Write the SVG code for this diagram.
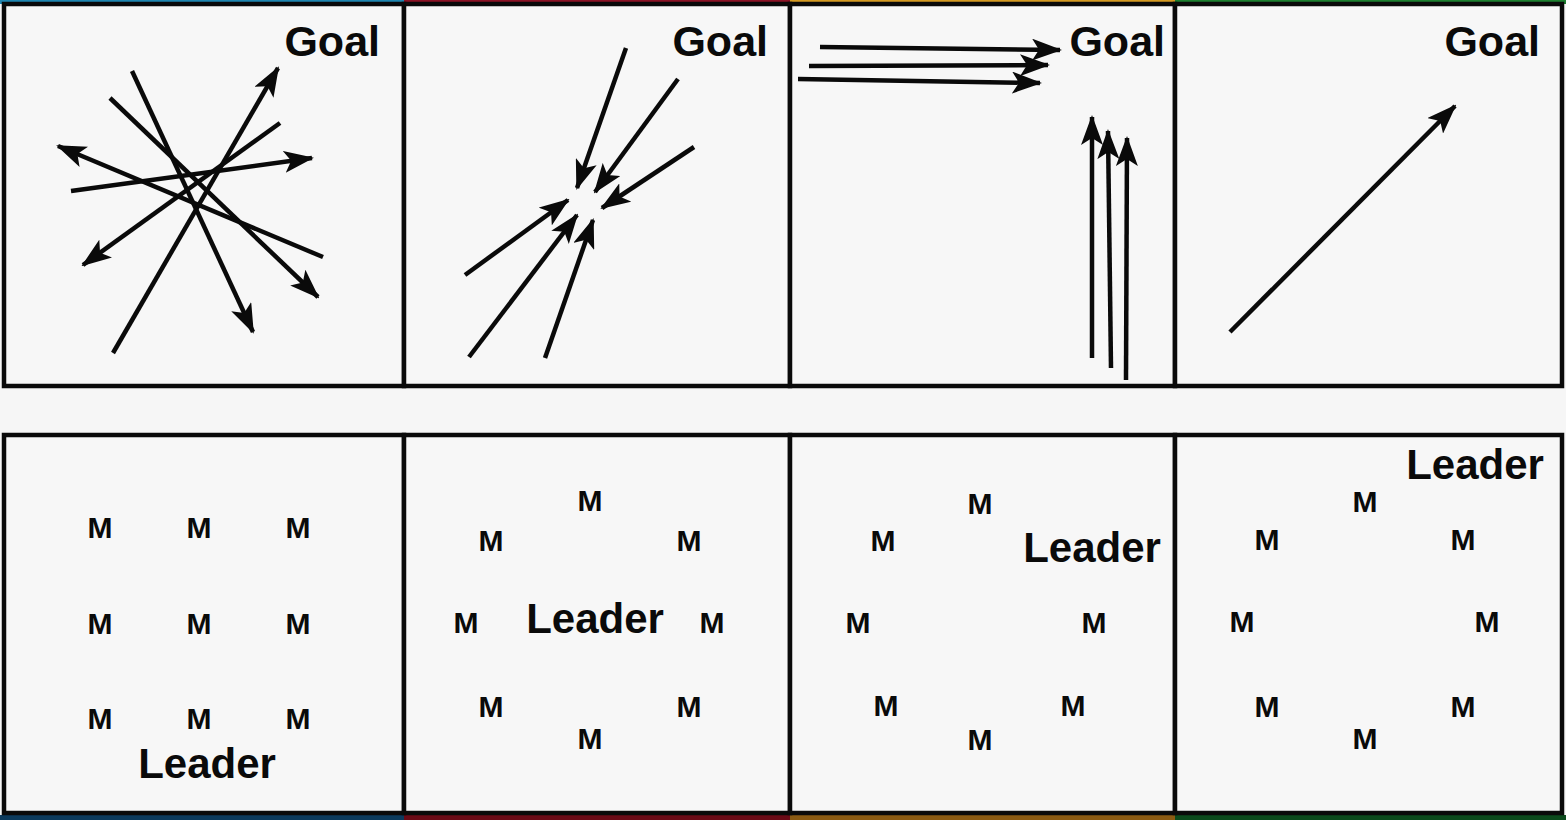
<svg xmlns="http://www.w3.org/2000/svg" width="1566" height="820" viewBox="0 0 1566 820">
<defs>
<style>
.frame{fill:#f7f7f7;stroke:#0a0a0a;stroke-width:4.5}
.goal{font-family:"Liberation Sans",Arial,sans-serif;font-weight:bold;font-size:43px;fill:#0a0a0a;text-anchor:end}
.lead{font-family:"Liberation Sans",Arial,sans-serif;font-weight:bold;font-size:42px;fill:#0a0a0a;text-anchor:middle}
.m{font-family:"Liberation Sans",Arial,sans-serif;font-weight:bold;font-size:30px;fill:#0a0a0a;text-anchor:middle}
.arr{stroke:#0a0a0a;stroke-width:4.5;fill:none;marker-end:url(#ah)}
</style>
<marker id="ah" viewBox="0 0 30 22" markerWidth="30" markerHeight="22" refX="28" refY="11" orient="auto" markerUnits="userSpaceOnUse">
<path d="M0,0 L30,11 L0,22 L7,11 z" fill="#0a0a0a"/>
</marker>
</defs>
<rect x="0" y="0" width="1566" height="820" fill="#f6f6f6"/>
<rect x="0" y="0" width="404" height="4" fill="#1f86b0"/>
<rect x="404" y="0" width="386" height="4" fill="#8c1426"/>
<rect x="790" y="0" width="385" height="4" fill="#d49a22"/>
<rect x="1175" y="0" width="391" height="4" fill="#1d7f2f"/>
<rect x="0" y="815" width="404" height="5" fill="#0c3a5c"/>
<rect x="404" y="815" width="386" height="5" fill="#6a0a16"/>
<rect x="790" y="815" width="385" height="5" fill="#8a5a12"/>
<rect x="1175" y="815" width="391" height="5" fill="#0b4a1c"/>

<g id="panel-top-1"><rect class="frame" x="4" y="4" width="400" height="382"/><text class="goal" x="380" y="56">Goal</text></g>
<g id="panel-top-2"><rect class="frame" x="404" y="4" width="386" height="382"/><text class="goal" x="768" y="56">Goal</text></g>
<g id="panel-top-3"><rect class="frame" x="790" y="4" width="385" height="382"/><text class="goal" x="1165" y="56">Goal</text></g>
<g id="panel-top-4"><rect class="frame" x="1175" y="4" width="387" height="382"/><text class="goal" x="1540" y="56">Goal</text></g>

<g id="connectors">
<line class="arr" x1="110" y1="98" x2="318" y2="297"/>
<line class="arr" x1="132" y1="71" x2="253" y2="332"/>
<line class="arr" x1="113" y1="353" x2="278" y2="68"/>
<line class="arr" x1="280" y1="123" x2="83" y2="265"/>
<line class="arr" x1="71" y1="191" x2="312" y2="158"/>
<line class="arr" x1="323" y1="257" x2="58" y2="146"/>

<line class="arr" x1="626" y1="48" x2="577" y2="188"/>
<line class="arr" x1="678" y1="79" x2="595" y2="192"/>
<line class="arr" x1="694" y1="147" x2="602" y2="208"/>
<line class="arr" x1="465" y1="275" x2="568" y2="200"/>
<line class="arr" x1="469" y1="357" x2="577" y2="215"/>
<line class="arr" x1="545" y1="358" x2="593" y2="220"/>

<line class="arr" x1="820" y1="47" x2="1060" y2="50"/>
<line class="arr" x1="809" y1="66" x2="1048" y2="65"/>
<line class="arr" x1="798" y1="79" x2="1040" y2="83"/>
<line class="arr" x1="1092" y1="358" x2="1092" y2="117"/>
<line class="arr" x1="1111" y1="368" x2="1108" y2="131"/>
<line class="arr" x1="1126" y1="380" x2="1127" y2="138"/>

<line class="arr" x1="1230" y1="332" x2="1455" y2="106"/>
</g>

<g id="panel-bottom-1"><rect class="frame" x="4" y="435" width="400" height="378"/>
<text class="m" x="100" y="538">M</text><text class="m" x="199" y="538">M</text><text class="m" x="298" y="538">M</text>
<text class="m" x="100" y="634">M</text><text class="m" x="199" y="634">M</text><text class="m" x="298" y="634">M</text>
<text class="m" x="100" y="729">M</text><text class="m" x="199" y="729">M</text><text class="m" x="298" y="729">M</text>
<text class="lead" x="207" y="778">Leader</text></g>

<g id="panel-bottom-2"><rect class="frame" x="404" y="435" width="386" height="378"/>
<text class="m" x="590" y="511">M</text><text class="m" x="491" y="551">M</text><text class="m" x="689" y="551">M</text>
<text class="m" x="466" y="633">M</text><text class="m" x="712" y="633">M</text>
<text class="m" x="491" y="717">M</text><text class="m" x="689" y="717">M</text><text class="m" x="590" y="749">M</text>
<text class="lead" x="595" y="633">Leader</text></g>

<g id="panel-bottom-3"><rect class="frame" x="790" y="435" width="385" height="378"/>
<text class="m" x="980" y="514">M</text><text class="m" x="883" y="551">M</text>
<text class="m" x="858" y="633">M</text><text class="m" x="1094" y="633">M</text>
<text class="m" x="886" y="716">M</text><text class="m" x="1073" y="716">M</text><text class="m" x="980" y="750">M</text>
<text class="lead" x="1092" y="562">Leader</text></g>

<g id="panel-bottom-4"><rect class="frame" x="1175" y="435" width="387" height="378"/>
<text class="m" x="1365" y="512">M</text><text class="m" x="1267" y="550">M</text><text class="m" x="1463" y="550">M</text>
<text class="m" x="1242" y="632">M</text><text class="m" x="1487" y="632">M</text>
<text class="m" x="1267" y="717">M</text><text class="m" x="1463" y="717">M</text><text class="m" x="1365" y="749">M</text>
<text class="lead" x="1475" y="479">Leader</text></g>
</svg>
